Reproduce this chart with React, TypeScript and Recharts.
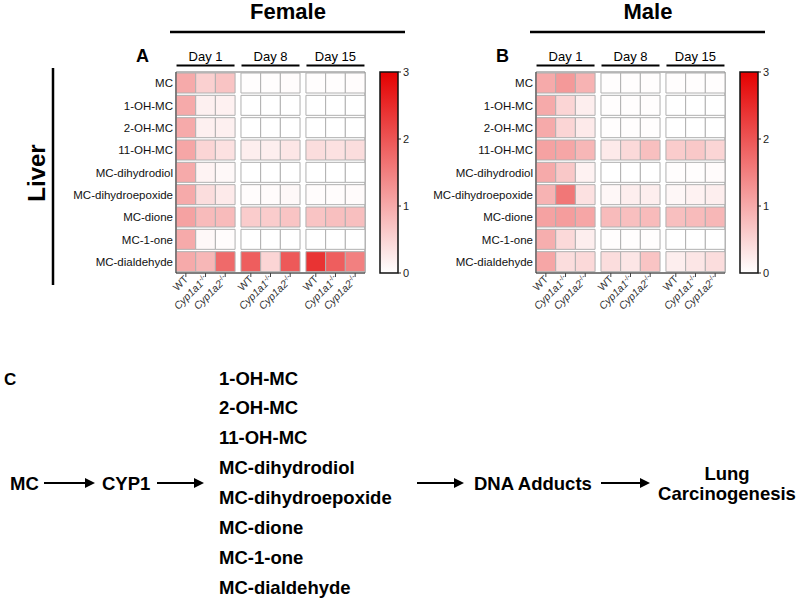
import { BarChart, Bar, Cell, XAxis, YAxis, ReferenceArea } from 'recharts';

const FONT = '"Liberation Sans", Arial, Helvetica, sans-serif';

const METABOLITES = [
  'MC',
  '1-OH-MC',
  '2-OH-MC',
  '11-OH-MC',
  'MC-dihydrodiol',
  'MC-dihydroepoxide',
  'MC-dione',
  'MC-1-one',
  'MC-dialdehyde',
];
const DAYS = ['Day 1', 'Day 8', 'Day 15'];
const GENOTYPES = ['WT', 'Cyp1a1', 'Cyp1a2'];
const SCALE_TICKS = [0, 1, 2, 3];

// rows = metabolites, cols = Day1 (WT, 1a1, 1a2), Day8 (...), Day15 (...)
const femaleValues = [
  [1.0, 0.55, 0.7, 0.02, 0.02, 0.04, 0.02, 0.02, 0.03],
  [1.0, 0.18, 0.16, 0.0, 0.0, 0.0, 0.0, 0.0, 0.0],
  [1.0, 0.18, 0.18, 0.0, 0.0, 0.0, 0.0, 0.0, 0.0],
  [1.05, 0.5, 0.35, 0.2, 0.2, 0.3, 0.4, 0.35, 0.4],
  [1.0, 0.14, 0.08, 0.0, 0.0, 0.0, 0.0, 0.0, 0.0],
  [1.0, 0.4, 0.25, 0.04, 0.05, 0.08, 0.04, 0.04, 0.05],
  [1.1, 0.8, 0.8, 0.6, 0.6, 0.7, 0.7, 0.75, 0.75],
  [1.0, 0.08, 0.04, 0.0, 0.0, 0.0, 0.0, 0.0, 0.0],
  [1.0, 0.85, 1.75, 1.9, 0.5, 1.95, 2.4, 1.9, 1.5],
];
const maleValues = [
  [1.0, 1.2, 0.9, 0.02, 0.02, 0.02, 0.02, 0.02, 0.02],
  [1.0, 0.5, 0.2, 0.02, 0.02, 0.02, 0.0, 0.0, 0.0],
  [1.0, 0.5, 0.25, 0.02, 0.02, 0.02, 0.0, 0.0, 0.0],
  [1.1, 1.05, 0.85, 0.25, 0.45, 0.75, 0.6, 0.65, 0.5],
  [1.0, 0.65, 0.15, 0.0, 0.0, 0.0, 0.02, 0.02, 0.05],
  [0.9, 1.6, 0.35, 0.1, 0.2, 0.2, 0.1, 0.15, 0.2],
  [1.1, 1.15, 1.05, 0.8, 0.75, 0.8, 0.75, 0.8, 0.85],
  [0.95, 0.45, 0.2, 0.02, 0.02, 0.02, 0.0, 0.0, 0.0],
  [1.05, 0.4, 0.45, 0.4, 0.3, 0.7, 0.2, 0.3, 0.4],
];

const PRODUCTS = [
  '1-OH-MC',
  '2-OH-MC',
  '11-OH-MC',
  'MC-dihydrodiol',
  'MC-dihydroepoxide',
  'MC-dione',
  'MC-1-one',
  'MC-dialdehyde',
];

const GAP = 0.3;
const TOTAL = 9 + 2 * GAP;
const PLOT_LEFT = 176;
const PLOT_RIGHT = 365;
const PLOT_TOP = 72;
const PLOT_BOTTOM = 273;
const UNIT = (PLOT_RIGHT - PLOT_LEFT) / TOTAL;

// stacked segments along x: three cells per day, small blank gap between days
const segments: { key: string; size: number; col: number }[] = [];
DAYS.forEach((_, g) => {
  GENOTYPES.forEach((_, i) => segments.push({ key: `c${g * 3 + i}`, size: 1, col: g * 3 + i }));
  if (g < DAYS.length - 1) segments.push({ key: `gap${g}`, size: GAP, col: -1 });
});
const colCenters = segments.reduce<{ pos: number; centers: number[] }>(
  (acc, s) => {
    if (s.col >= 0) acc.centers.push(acc.pos + 0.5);
    acc.pos += s.size;
    return acc;
  },
  { pos: 0, centers: [] },
).centers;

const heat = (v: number) => {
  const t = Math.max(0, Math.min(1, v / 3));
  const r = Math.round(255 - 27 * t);
  const gb = Math.round(255 * (1 - t));
  return `rgb(${r},${gb},${gb})`;
};

const rows = METABOLITES.map((name) => {
  const o: Record<string, string | number> = { name };
  segments.forEach((s) => (o[s.key] = s.size));
  return o;
});

function GenotypeTick({ x, y, payload }: any) {
  const idx = colCenters.findIndex((c) => Math.abs(c - payload.value) < 1e-6);
  const geno = GENOTYPES[idx % 3];
  return (
    <g transform={`translate(${x + 3},${y + 1})`}>
      <text transform="rotate(-45)" textAnchor="end" fontSize={10.5} fill="#333" fontFamily={FONT}>
        {geno === 'WT' ? (
          'WT'
        ) : (
          <>
            <tspan fontStyle="italic">{geno}</tspan>
            <tspan fontSize={7} dy={-4}>
              -/-
            </tspan>
          </>
        )}
      </text>
    </g>
  );
}

function Heatmap({ values, left }: { values: number[][]; left: number }) {
  return (
    <div style={{ position: 'absolute', left, top: 0 }}>
      <BarChart
        width={370}
        height={330}
        data={rows}
        layout="vertical"
        margin={{ top: PLOT_TOP, right: 370 - PLOT_RIGHT, left: 6, bottom: 330 - PLOT_BOTTOM - 50 }}
      >
        <XAxis
          type="number"
          domain={[0, TOTAL]}
          ticks={colCenters}
          interval={0}
          height={50}
          tickSize={4}
          tickLine={{ stroke: '#444' }}
          axisLine={{ stroke: '#444' }}
          tick={<GenotypeTick />}
        />
        <YAxis
          type="category"
          dataKey="name"
          width={170}
          tickLine={false}
          tickSize={0}
          tickMargin={3}
          axisLine={{ stroke: '#444' }}
          tick={{ fontSize: 11.5, fill: '#111', fontFamily: FONT }}
        />
        {segments.map((s) => (
          <Bar
            key={s.key}
            dataKey={s.key}
            stackId="a"
            barSize={20}
            fill="none"
            isAnimationActive={false}
          >
            {s.col >= 0 &&
              rows.map((_, r) => (
                <Cell key={r} fill={heat(values[r][s.col])} stroke="#b0b0b0" strokeWidth={1} />
              ))}
          </Bar>
        ))}
        <ReferenceArea
          x1={0}
          x2={TOTAL}
          y1={METABOLITES[0]}
          y2={METABOLITES[METABOLITES.length - 1]}
          fill="none"
          stroke="#777"
        />
      </BarChart>
    </div>
  );
}

function ColorBar({ left, id }: { left: number; id: string }) {
  return (
    <div style={{ position: 'absolute', left, top: 0 }}>
      <BarChart
        width={60}
        height={330}
        data={[{ k: 'scale', v: 3 }]}
        margin={{ top: PLOT_TOP, right: 12, left: 10, bottom: 330 - PLOT_BOTTOM }}
        barCategoryGap={0}
      >
        <defs>
          <linearGradient id={id} x1="0" y1="1" x2="0" y2="0">
            <stop offset="0" stopColor="#ffffff" />
            <stop offset="1" stopColor="rgb(228,0,0)" />
          </linearGradient>
        </defs>
        <XAxis dataKey="k" hide />
        <YAxis
          orientation="right"
          domain={[0, 3]}
          ticks={SCALE_TICKS}
          width={20}
          axisLine={false}
          tickSize={3}
          tickLine={{ stroke: '#222' }}
          tick={{ fontSize: 11, fill: '#222', fontFamily: FONT }}
        />
        <Bar dataKey="v" fill={`url(#${id})`} stroke="#111" strokeWidth={1.5} isAnimationActive={false} />
      </BarChart>
    </div>
  );
}

function Arrow({ x1, x2, y }: { x1: number; x2: number; y: number }) {
  return (
    <g>
      <line x1={x1} x2={x2 - 8} y1={y} y2={y} stroke="#000" strokeWidth={2} />
      <path d={`M${x2 - 10},${y - 5} L${x2},${y} L${x2 - 10},${y + 5} Z`} fill="#000" />
    </g>
  );
}

function Annotations() {
  const groupCenter = (g: number) => PLOT_LEFT + UNIT * (g * (3 + GAP) + 1.5);
  const panels = [
    { dx: 0, title: 'Female', letter: 'A' },
    { dx: 360, title: 'Male', letter: 'B' },
  ];
  const row = 483;
  return (
    <svg
      width={800}
      height={599}
      style={{ position: 'absolute', left: 0, top: 0, pointerEvents: 'none' }}
      fontFamily={FONT}
    >
      {panels.map((p) => (
        <g key={p.title}>
          <text x={288 + p.dx} y={19} textAnchor="middle" fontSize={22} fontWeight="bold">
            {p.title}
          </text>
          <line x1={170 + p.dx} x2={405 + p.dx} y1={32} y2={32} stroke="#000" strokeWidth={2.5} />
          <text x={136 + p.dx} y={62} fontSize={18} fontWeight="bold">
            {p.letter}
          </text>
          {DAYS.map((d, g) => (
            <g key={d}>
              <text x={groupCenter(g) + p.dx} y={61} textAnchor="middle" fontSize={13}>
                {d}
              </text>
              <line
                x1={groupCenter(g) - 29 + p.dx}
                x2={groupCenter(g) + 29 + p.dx}
                y1={65.5}
                y2={65.5}
                stroke="#000"
                strokeWidth={2}
              />
            </g>
          ))}
        </g>
      ))}
      <text
        transform="translate(45,173) rotate(-90)"
        textAnchor="middle"
        fontSize={24}
        fontWeight="bold"
      >
        Liver
      </text>
      <line x1={53} x2={53} y1={68} y2={285} stroke="#000" strokeWidth={2.5} />

      <g fontWeight="bold" fontSize={18.5}>
        <text x={4} y={379} dominantBaseline="central" fontSize={17}>
          C
        </text>
        <text x={10} y={row} dominantBaseline="central">
          MC
        </text>
        <Arrow x1={44} x2={95} y={row} />
        <text x={102} y={row} dominantBaseline="central">
          CYP1
        </text>
        <Arrow x1={157} x2={204} y={row} />
        {PRODUCTS.map((p, i) => (
          <text key={p} x={219} y={378 + i * 29.9} dominantBaseline="central">
            {p}
          </text>
        ))}
        <Arrow x1={417} x2={464} y={row} />
        <text x={474} y={row} dominantBaseline="central">
          DNA Adducts
        </text>
        <Arrow x1={601} x2={650} y={row} />
        <text x={727} y={473} textAnchor="middle" dominantBaseline="central">
          Lung
        </text>
        <text x={727} y={493} textAnchor="middle" dominantBaseline="central">
          Carcinogenesis
        </text>
      </g>
    </svg>
  );
}

export default function App() {
  return (
    <div style={{ position: 'absolute', left: 0, top: 0, width: 800, height: 599, background: '#fff' }}>
      <Heatmap values={femaleValues} left={0} />
      <Heatmap values={maleValues} left={360} />
      <ColorBar left={370} id="scaleF" />
      <ColorBar left={730} id="scaleM" />
      <Annotations />
    </div>
  );
}
